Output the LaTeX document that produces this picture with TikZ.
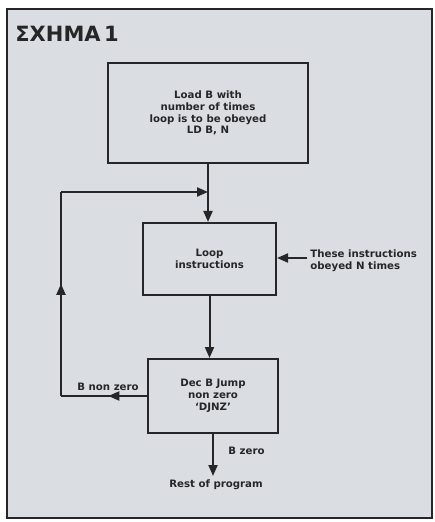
\documentclass[tikz,border=0pt]{standalone}
\usepackage{fontspec}
\newfontfamily\schemafont{DejaVu Sans}
\usetikzlibrary{arrows.meta,decorations.markings}
\definecolor{papier}{RGB}{218,222,226}
\definecolor{encre}{RGB}{38,38,40}
\tikzset{
  boite/.style={draw=encre,line width=1pt,fill=papier,align=center,inner sep=0pt,
    font=\schemafont\bfseries\fontsize{5.1}{5.9}\selectfont,text=encre},
  texte/.style={align=center,inner sep=0pt,
    font=\schemafont\bfseries\fontsize{5.1}{5.9}\selectfont,text=encre},
  ligne/.style={draw=encre,line width=1pt},
  fleche/.style={ligne,-{Triangle[length=5.5pt,width=4.5pt]}},
  flechemilieu/.style={ligne,postaction={decorate},decoration={markings,
    mark=at position #1 with {\arrow{Triangle[length=5.5pt,width=4.5pt]}}}}
}
\begin{document}
\begin{tikzpicture}[x=0.5pt,y=-0.5pt]
        \useasboundingbox (0,0) rectangle (434,522);
        % Cadre
        \filldraw[fill=papier,draw=encre,line width=1.2pt] (7,9) rectangle (432,518);
        \node[anchor=west,inner sep=0pt,text=encre,font=\schemafont\bfseries\fontsize{10.5}{12}\selectfont] (titre) at (15,34) {ΣΧΗΜΑ\,1};
        % Boites
        \node[boite,minimum width=100pt,minimum height=50pt] (charge) at (208,113) {Load B with\\number of times\\loop is to be obeyed\\LD B, N};
        \node[boite,minimum width=66.5pt,minimum height=36pt] (boucle) at (209.5,259) {Loop\\instructions};
        \node[boite,minimum width=65pt,minimum height=37pt] (djnz) at (213,396) {Dec B Jump\\non zero\\‘DJNZ’};
        % Textes
        \node[texte,align=left,anchor=west] (note) at (310,261) {These instructions\\obeyed N times};
        \node[texte] (suite) at (216,485) {Rest of program};
        \node[texte] (nonzero) at (108,387) {B non zero};
        \node[texte,anchor=west] (zero) at (228,451) {B zero};
        % Connecteurs
        \coordinate (jonction) at (charge.south |- 0,192);
        \coordinate (bas) at (61,0 |- djnz.west);
        \coordinate (haut) at (61,192);
        \coordinate (finsuite) at (djnz.south |- 0,476);
        \draw[fleche] (charge.south) -- (charge.south |- boucle.north);
        \draw[fleche] (boucle.south) -- (boucle.south |- djnz.north);
        \draw[fleche] (djnz.south) -- (finsuite);
        \draw[flechemilieu=0.45] (djnz.west) -- (bas);
        \draw[flechemilieu=0.55] (bas) -- (haut);
        \draw[fleche] (haut) -- (jonction);
        \draw[fleche] (note.west) ++(-3,-3) coordinate (depart) -- (depart -| boucle.east);
    \end{tikzpicture}
\end{document}
